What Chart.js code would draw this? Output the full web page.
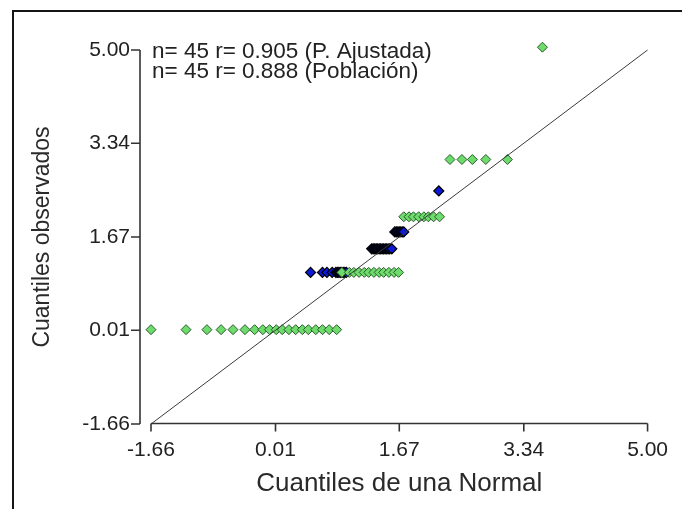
<!DOCTYPE html>
<html><head><meta charset="utf-8">
<script src="https://cdn.jsdelivr.net/npm/chart.js@4.4.1/dist/chart.umd.min.js"></script>
<style>
html,body{margin:0;padding:0;background:#fff;}
#wrap{position:relative;width:682px;height:509px;overflow:hidden;}
#frame{position:absolute;left:12px;top:10px;width:700px;height:520px;border-left:2px solid #151515;border-top:2px solid #151515;pointer-events:none;}
canvas{display:block;}
</style></head><body>
<div id="wrap"><canvas id="c" width="682" height="509"></canvas><div id="frame"></div></div>
<script>
// ---- data ----
const xTickValues = [-1.66, 0.01, 1.67, 3.34, 5.00];
const yTickValues = [-1.66, 0.01, 1.67, 3.34, 5.00];
const xTitle = 'Cuantiles de una Normal';
const yTitle = 'Cuantiles observados';
const notes = ['n= 45 r= 0.905 (P. Ajustada)', 'n= 45 r= 0.888 (Población)'];

// P. Ajustada (green)
const ajustadaX = [-1.66, -1.19, -0.91, -0.72, -0.56, -0.40, -0.27, -0.16, -0.07, 0.02, 0.10, 0.19, 0.28, 0.37, 0.45, 0.55, 0.64, 0.73, 0.83,
                   0.90, 1.00, 1.06, 1.13, 1.20, 1.26, 1.33, 1.40, 1.46, 1.53, 1.60, 1.66,
                   1.73, 1.80, 1.86, 1.93, 2.00, 2.06, 2.13, 2.21,
                   2.35, 2.51, 2.65, 2.83, 3.12,
                   3.59];
const ajustadaY = [0.02, 0.02, 0.02, 0.02, 0.02, 0.02, 0.02, 0.02, 0.02, 0.02, 0.02, 0.02, 0.02, 0.02, 0.02, 0.02, 0.02, 0.02, 0.02,
                   1.04, 1.04, 1.04, 1.04, 1.04, 1.04, 1.04, 1.04, 1.04, 1.04, 1.04, 1.04,
                   2.03, 2.03, 2.03, 2.03, 2.03, 2.03, 2.03, 2.03,
                   3.05, 3.05, 3.05, 3.05, 3.05,
                   5.05];

// Población (blue) - visible points (dense runs look black)
const poblacionX = [0.48, 0.64, 0.70, 0.77, 0.82, 0.84, 0.86, 0.88, 0.90, 0.92, 0.94, 0.96,
                    1.30, 1.32, 1.34, 1.36, 1.38, 1.40, 1.42, 1.44, 1.46, 1.48, 1.50, 1.52, 1.54, 1.57,
                    1.61, 1.63, 1.65, 1.67, 1.69, 1.71, 1.73,
                    2.20];
const poblacionY = [1.04, 1.04, 1.04, 1.04, 1.04, 1.04, 1.04, 1.04, 1.04, 1.04, 1.04, 1.04,
                    1.46, 1.46, 1.46, 1.46, 1.46, 1.46, 1.46, 1.46, 1.46, 1.46, 1.46, 1.46, 1.46, 1.46,
                    1.76, 1.76, 1.76, 1.76, 1.76, 1.76, 1.76,
                    2.49];

const refLineX = [-1.66, 5.00];
const refLineY = [-1.66, 5.00];

// ---- chart ----
const toPts = (xs, ys) => xs.map((v, i) => ({x: v, y: ys[i]}));
Chart.defaults.font.family = '"Liberation Sans", Arial, sans-serif';
Chart.defaults.color = '#222';

const axesPlugin = {
  id: 'axesLines',
  afterDatasetsDraw(chart) {
    const {ctx, scales: {x, y}} = chart;
    ctx.save();
    ctx.strokeStyle = '#333';
    ctx.lineWidth = 1.6;
    const ax = x.left - 11;
    const yTop = y.getPixelForValue(yTickValues[yTickValues.length - 1]);
    const yBot = y.getPixelForValue(yTickValues[0]);
    ctx.beginPath();
    ctx.moveTo(ax, yTop); ctx.lineTo(ax, yBot);
    yTickValues.forEach(v => { const p = y.getPixelForValue(v); ctx.moveTo(ax - 9, p); ctx.lineTo(ax, p); });
    const ay = y.bottom - 0.5;
    const xL = x.getPixelForValue(xTickValues[0]);
    const xR = x.getPixelForValue(xTickValues[xTickValues.length - 1]);
    ctx.moveTo(xL, ay); ctx.lineTo(xR, ay);
    xTickValues.forEach(v => { const p = x.getPixelForValue(v); ctx.moveTo(p, ay); ctx.lineTo(p, ay + 8); });
    ctx.stroke();
    ctx.restore();
  },
  afterDraw(chart) {
    const {ctx, chartArea} = chart;
    ctx.save();
    ctx.font = '22.5px "Liberation Sans", Arial, sans-serif';
    ctx.fillStyle = '#222';
    ctx.textBaseline = 'alphabetic';
    ctx.fillText(notes[0], chartArea.left + 1, chartArea.top + 8);
    ctx.fillText(notes[1], chartArea.left + 1, chartArea.top + 28);
    ctx.restore();
  }
};

new Chart(document.getElementById('c'), {
  type: 'scatter',
  data: {
    datasets: [
      {
        label: 'ref',
        data: toPts(refLineX, refLineY),
        showLine: true,
        borderColor: '#3a3a3a',
        borderWidth: 1,
        pointRadius: 0,
        order: 0,
        clip: false
      },
      {
        label: 'P. Ajustada',
        data: toPts(ajustadaX, ajustadaY),
        pointStyle: 'rectRot',
        pointRadius: 5,
        backgroundColor: '#6ddc6d',
        borderColor: '#2c5a2c',
        borderWidth: 1,
        order: 1,
        clip: false
      },
      {
        label: 'Población',
        data: toPts(poblacionX, poblacionY),
        pointStyle: 'rectRot',
        pointRadius: 5,
        backgroundColor: '#0c1ad8',
        borderColor: '#000000',
        borderWidth: 1.2,
        order: 2,
        clip: false
      }
    ]
  },
  options: {
    responsive: false,
    animation: false,
    events: [],
    layout: {padding: {top: 50, right: 32, bottom: 0, left: 0}},
    plugins: {legend: {display: false}, tooltip: {enabled: false}},
    scales: {
      x: {
        type: 'linear',
        min: xTickValues[0],
        max: xTickValues[xTickValues.length - 1],
        afterBuildTicks: s => { s.ticks = xTickValues.map(v => ({value: v})); },
        afterFit: s => { s.height = 85; },
        grid: {display: false, drawTicks: false},
        border: {display: false},
        ticks: {font: {size: 21}, color: '#222', padding: 14, maxRotation: 0, callback: v => Number(v).toFixed(2)},
        title: {display: true, text: xTitle, font: {size: 26}, color: '#2a2a2a', padding: {top: 0, bottom: 10}}
      },
      y: {
        type: 'linear',
        min: yTickValues[0],
        max: yTickValues[yTickValues.length - 1],
        afterBuildTicks: s => { s.ticks = yTickValues.map(v => ({value: v})); },
        afterFit: s => { s.width = 151; },
        grid: {display: false, drawTicks: false},
        border: {display: false},
        ticks: {font: {size: 21}, color: '#222', padding: 21, callback: v => Number(v).toFixed(2)},
        title: {display: true, text: yTitle, font: {size: 23}, color: '#2a2a2a', padding: {top: 29, bottom: 0}}
      }
    }
  },
  plugins: [axesPlugin]
});
</script>
</body></html>
